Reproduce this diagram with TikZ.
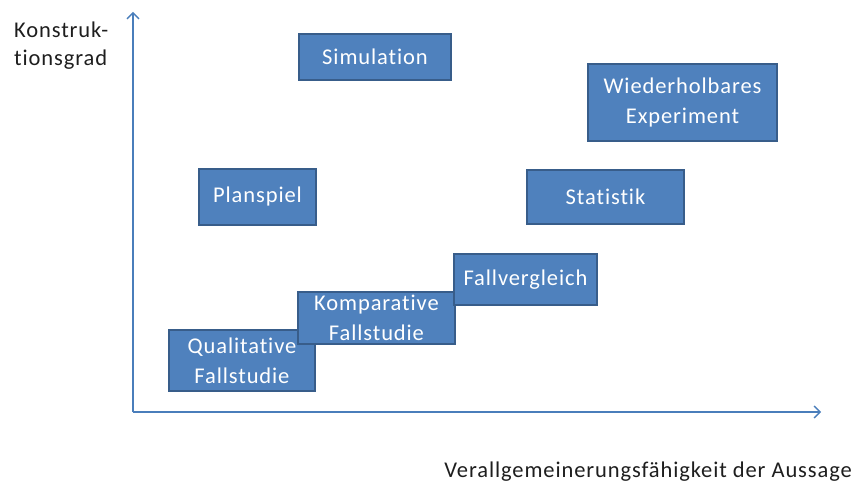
\documentclass[tikz,border=0pt]{standalone}
\usepackage{fontspec}
\setmainfont{Carlito}[LetterSpace=4, RawFeature={-liga}]
\usetikzlibrary{arrows.meta}
\definecolor{boxfill}{RGB}{79,129,189}
\definecolor{boxline}{RGB}{56,93,138}
\definecolor{axisblue}{RGB}{74,126,187}
\definecolor{labeltext}{RGB}{30,30,30}
\tikzset{
  box/.style={draw=boxline, fill=boxfill, line width=1.3pt, inner sep=0pt,
    text=white, align=center, font=\fontsize{22.5}{30}\selectfont},
  boxtext/.style={inner sep=0pt, text=white, align=center, font=\fontsize{22.5}{30}\selectfont},
  axis/.style={draw=axisblue, line width=1.4pt, -{Straight Barb[length=6pt,width=12pt,line width=1.4pt]}},
  axislabel/.style={inner sep=0pt, text=labeltext, align=left, font=\fontsize{22.5}{28}\selectfont}
}
\begin{document}
\begin{tikzpicture}[x=1pt,y=-1pt]
\useasboundingbox (0,0) rectangle (854,481);
\coordinate (O) at (133,412);
\coordinate (ytop) at (133,12);
\coordinate (xend) at (821,412);
\draw[axis] (O) -- (ytop);
\draw[axis] (O) -- (xend);
\node[axislabel, anchor=base west] (ylab) at (14,66) {Konstruk-\\tionsgrad};
\node[axislabel, anchor=base east] (xlab) at (852,477) {Verallgemeinerungsfähigkeit der Aussage};
\node[box, minimum width=152pt, minimum height=46pt] (sim) at (375,57) {Simulation};
\node[box, minimum width=189pt, minimum height=77pt] (exp) at (682.5,102.5) {Wiederholbares\\Experiment};
\node[box, minimum width=117pt, minimum height=56pt] (plan) at (257.5,197) {Planspiel};
\node[box, minimum width=157pt, minimum height=54pt] (stat) at (605.5,197) {Statistik};
\node[box, minimum width=146pt, minimum height=61pt] (qual) at (242,360.5) {};
\node[box, minimum width=157pt, minimum height=52pt] (komp) at (376.5,318) {Komparative\\Fallstudie};
\node[box, minimum width=143pt, minimum height=51pt] (fall) at (525.5,279.5) {Fallvergleich};
\node[boxtext] (qualtext) at (qual.center) {Qualitative\\Fallstudie};
\end{tikzpicture}
\end{document}
